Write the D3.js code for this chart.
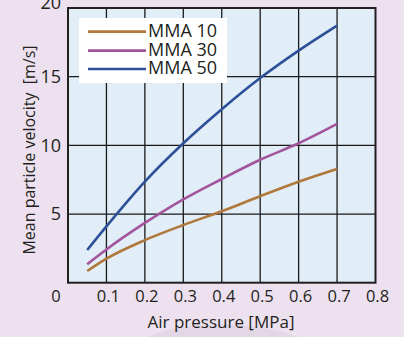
<!DOCTYPE html>
<html><head><meta charset="utf-8">
<script src="https://cdn.jsdelivr.net/npm/d3@7"></script>
<style>
html,body{margin:0;padding:0;background:#ede1ef;}
svg{display:block;}
text{font-family:"Open Sans",sans-serif;fill:#231f20;}
</style></head>
<body>
<script>
const pressure = [0.05, 0.1, 0.2, 0.3, 0.4, 0.5, 0.6, 0.7];
const mma10 = [0.85, 1.75, 3.1, 4.2, 5.2, 6.3, 7.35, 8.28];
const mma30 = [1.35, 2.42, 4.35, 6.07, 7.55, 8.95, 10.15, 11.56];
const mma50 = [2.38, 4.1, 7.36, 10.15, 12.63, 14.9, 16.9, 18.72];
const seriesNames = ["MMA 10", "MMA 30", "MMA 50"];
const seriesColors = ["#b0783a", "#a2559c", "#2c5198"];
const xTicks = [0.1, 0.2, 0.3, 0.4, 0.5, 0.6, 0.7, 0.8];
const yTicks = [5, 10, 15, 20];

const W = 404, H = 337;
const svg = d3.select("body").append("svg").attr("width", W).attr("height", H);

// faint background decoration
svg.append("ellipse").attr("cx", 222).attr("cy", 372).attr("rx", 110).attr("ry", 48)
  .attr("fill", "#e3d7e6");

const x = d3.scaleLinear().domain([0, 0.8]).range([68, 375.5]);
const y = d3.scaleLinear().domain([0, 20]).range([282.7, 8]);

svg.append("rect").attr("x", x(0)).attr("y", y(20)).attr("width", x(0.8) - x(0)).attr("height", y(0) - y(20))
  .attr("fill", "#e1edf7");

// grid
const g = svg.append("g");
g.selectAll("line.vx").data(xTicks.slice(0, -1)).join("line")
  .attr("x1", d => x(d)).attr("x2", d => x(d)).attr("y1", y(20)).attr("y2", y(0))
  .attr("stroke", "#1a1a1a").attr("stroke-width", 1.3);
g.selectAll("line.hy").data(yTicks.slice(0, -1)).join("line")
  .attr("y1", d => y(d)).attr("y2", d => y(d)).attr("x1", x(0)).attr("x2", x(0.8))
  .attr("stroke", "#1a1a1a").attr("stroke-width", 1.3);

// frame
svg.append("rect").attr("x", x(0)).attr("y", y(20)).attr("width", x(0.8) - x(0)).attr("height", y(0) - y(20))
  .attr("fill", "none").attr("stroke", "#231f20").attr("stroke-width", 2);

// lines
const allSeries = [mma10, mma30, mma50];
const line = d3.line().x((d, i) => x(pressure[i])).y(d => y(d)).curve(d3.curveMonotoneX);
svg.selectAll("path.s").data(allSeries).join("path")
  .attr("d", d => line(d)).attr("fill", "none")
  .attr("stroke", (d, i) => seriesColors[i]).attr("stroke-width", 2.6);

// tick labels
svg.selectAll("text.xt").data(xTicks).join("text")
  .attr("x", d => x(d) + 2).attr("y", 296).attr("dy", "0.35em")
  .attr("text-anchor", "middle").attr("font-size", 16.5).text(d => d.toFixed(1));
svg.append("text").attr("x", 56).attr("y", 296).attr("dy", "0.35em")
  .attr("text-anchor", "middle").attr("font-size", 16.5).text("0");
svg.selectAll("text.yt").data(yTicks).join("text")
  .attr("x", 61).attr("y", d => d === 20 ? y(d) - 5 : y(d)).attr("dy", "0.35em")
  .attr("text-anchor", "end").attr("font-size", 18).text(d => d);

// axis titles
svg.append("text").attr("x", 221).attr("y", 328)
  .attr("text-anchor", "middle").attr("font-size", 17).text("Air pressure [MPa]");
svg.append("text").attr("transform", "translate(35,150) rotate(-90)")
  .attr("text-anchor", "middle").attr("font-size", 16).attr("xml:space", "preserve")
  .text("Mean particle velocity  [m/s]");

// legend
svg.append("rect").attr("x", 79).attr("y", 18).attr("width", 148).attr("height", 65).attr("fill", "#ffffff");
const ly = [31.7, 50.7, 69];
seriesNames.forEach((n, i) => {
  svg.append("line").attr("x1", 88).attr("x2", 146).attr("y1", ly[i]).attr("y2", ly[i])
    .attr("stroke", seriesColors[i]).attr("stroke-width", 2.7);
  svg.append("text").attr("x", 148).attr("y", ly[i] - 1.5).attr("dy", "0.36em")
    .attr("font-size", 18).text(n);
});
</script>
</body></html>
